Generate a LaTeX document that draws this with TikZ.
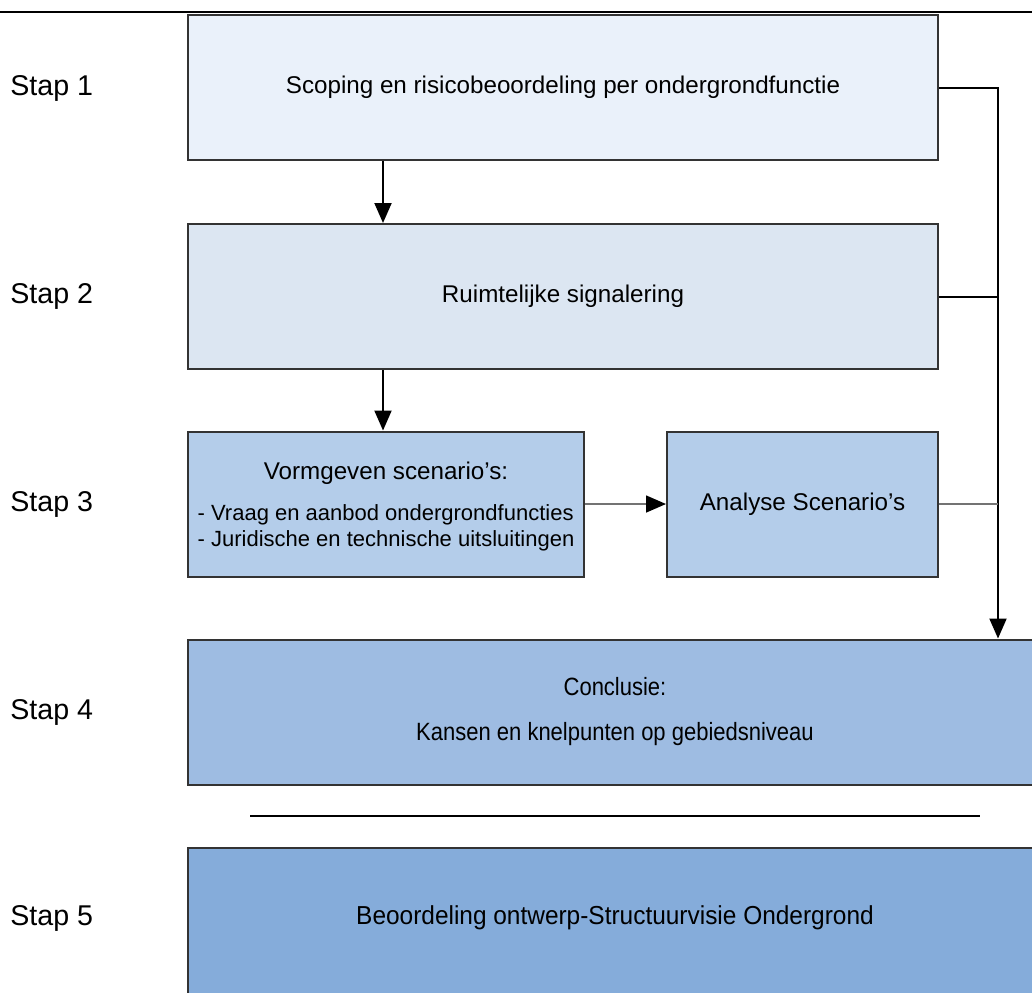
\documentclass[tikz,border=0pt]{standalone}
\usepackage{fontspec}
\setmainfont{Liberation Sans}
\newfontfamily\narrowfont[FakeStretch=0.88]{Liberation Sans}
\newfontfamily\lessnarrowfont[FakeStretch=0.94]{Liberation Sans}
\usetikzlibrary{arrows.meta}
\definecolor{stepone}{RGB}{234,241,250}
\definecolor{steptwo}{RGB}{220,230,242}
\definecolor{stepthree}{RGB}{180,205,234}
\definecolor{stepfour}{RGB}{158,188,226}
\definecolor{stepfive}{RGB}{133,172,218}
\begin{document}
\begin{tikzpicture}[
   x=0.5pt,y=-0.5pt,
   font=\fontsize{12.1}{14}\selectfont,
   box/.style={draw=black!80,line width=1pt,inner sep=0pt,minimum height=72.5pt,align=center},
   stap/.style={anchor=west,inner sep=0pt,font=\fontsize{14.3}{16}\selectfont},
   to/.style={-{Triangle[length=10pt,width=8.5pt,color=black]},line width=1pt},
   link/.style={draw=black!55,line width=0.75pt}]
\useasboundingbox (0,0) rectangle (1032,992);
\clip (0,0) rectangle (1032,992);
\draw[line width=1.2pt] (0,12) -- (1032,12);
\node[stap] (stap1) at (10,88) {Stap 1};
\node[stap] (stap2) at (10,296) {Stap 2};
\node[stap] (stap3) at (10,504) {Stap 3};
\node[stap] (stap4) at (10,712) {Stap 4};
\node[stap] (stap5) at (10,918) {Stap 5};
\node[box,fill=stepone,minimum width=375pt] (scoping) at (563,87.5) {Scoping en risicobeoordeling per ondergrondfunctie};
\node[box,fill=steptwo,minimum width=375pt] (signalering) at (563,296.5) {Ruimtelijke signalering};
\node[box,fill=stepthree,minimum width=198pt] (vormgeven) at (386,504) {\rule{0pt}{12.7pt}Vormgeven scenario’s:\\[8pt]
   {\fontsize{11}{13}\selectfont\begin{tabular}{@{}l@{}}- Vraag en aanbod ondergrondfuncties\\- Juridische en technische uitsluitingen\end{tabular}}};
\node[box,fill=stepthree,minimum width=135.5pt] (analyse) at (802.5,504) {Analyse Scenario’s};
\node[box,fill=stepfour,minimum width=427pt,font={\narrowfont\fontsize{12.5}{15}\selectfont}] (conclusie) at (615,712) {Conclusie:\\[7.5pt]Kansen en knelpunten op gebiedsniveau};
\node[box,fill=stepfive,minimum width=427pt,minimum height=76pt,font={\lessnarrowfont\fontsize{13}{15}\selectfont}] (beoordeling) at (615,924) {\rule[-9pt]{0pt}{1pt}Beoordeling ontwerp-Structuurvisie Ondergrond};
\coordinate (bus) at (998,0);
\draw[to] ([xshift=98pt]scoping.south west) -- ([xshift=98pt]signalering.north west);
\draw[to] ([xshift=98pt]signalering.south west) -- ([xshift=98pt]vormgeven.north west);
\draw[to,link] (vormgeven) -- (analyse);
\draw[to] (scoping.east) -- (scoping.east -| bus) -- (bus |- conclusie.north);
\draw[line width=1pt] (signalering.east) -- (signalering.east -| bus);
\draw[link] (analyse.east) -- (analyse.east -| bus);
\draw[line width=1pt] (250,816) -- (980,816);
\end{tikzpicture}
\end{document}
